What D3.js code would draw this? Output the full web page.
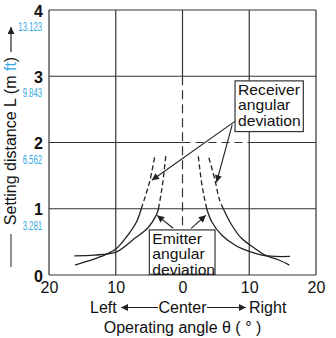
<!DOCTYPE html>
<html>
<head>
<meta charset="utf-8">
<script src="https://cdn.jsdelivr.net/npm/d3@7"></script>
<style>
  html, body { margin: 0; padding: 0; background: #fff; }
  svg { display: block; font-family: "Liberation Sans", Arial, sans-serif; }
</style>
</head>
<body>
<svg id="chart" width="336" height="338"></svg>
<script>
// Operating angle (deg, negative = left) vs setting distance L (m)
const emitterLeft   = [[-16.2,0.29],[-13.2,0.30],[-9.9,0.35],[-7.2,0.55],[-5.2,0.71],[-3.95,0.90],[-3.6,1.0],[-3.25,1.2],[-2.95,1.4],[-2.5,1.8]];
const emitterRight  = [[16.1,0.28],[13.9,0.28],[11.9,0.30],[9.9,0.36],[7.9,0.45],[5.9,0.60],[4.4,0.80],[3.63,1.0],[3.2,1.2],[2.85,1.4],[2.37,1.79]];
const receiverLeft  = [[-16.1,0.15],[-11.7,0.30],[-9.9,0.40],[-8.2,0.60],[-6.9,0.80],[-6.17,1.0],[-5.66,1.16],[-4.87,1.43],[-4.12,1.81]];
const receiverRight = [[16.0,0.15],[14.35,0.23],[12.36,0.30],[10.86,0.40],[8.87,0.55],[7.37,0.755],[6.11,1.0],[5.5,1.15],[4.87,1.43],[3.87,1.8]];

const xTicks = [-20, -10, 0, 10, 20];
const meterTicks = [0, 1, 2, 3, 4];
const feetLabels = ["", "3.281", "6.562", "9.843", "13.123"];
const solidLimit = 1.0;   // curves are measured up to 1 m, dashed beyond

const svg = d3.select("#chart");
const x = d3.scaleLinear().domain([-20, 20]).range([49, 316]);
const y = d3.scaleLinear().domain([0, 4]).range([275, 10]);

const ink = "#222";
const blue = "#36a9e1";

// arrowhead marker
svg.append("defs").append("marker")
  .attr("id", "head").attr("viewBox", "0 0 10 10")
  .attr("refX", 10).attr("refY", 5)
  .attr("markerWidth", 10).attr("markerHeight", 7)
  .attr("markerUnits", "userSpaceOnUse")
  .attr("orient", "auto")
  .append("path").attr("d", "M0,0 L10,5 L0,10 Z").attr("fill", ink);

// grid
const grid = svg.append("g").attr("stroke", "#333").attr("stroke-width", 1.2).attr("fill", "none");
xTicks.filter(d => d !== 0).forEach(d => {
  grid.append("line").attr("x1", x(d)).attr("x2", x(d)).attr("y1", y(0)).attr("y2", y(4));
});
meterTicks.forEach(d => {
  if (d === 2) {
    grid.append("line").attr("x1", x(-20)).attr("x2", x(0)).attr("y1", y(d)).attr("y2", y(d));
    grid.append("line").attr("x1", x(0)).attr("x2", x(10)).attr("y1", y(d)).attr("y2", y(d))
      .attr("stroke-dasharray", "8,5");
    grid.append("line").attr("x1", x(10)).attr("x2", x(20)).attr("y1", y(d)).attr("y2", y(d));
  } else {
    grid.append("line").attr("x1", x(-20)).attr("x2", x(20)).attr("y1", y(d)).attr("y2", y(d));
  }
});
// centre line: solid at top, dashed below 3 m
grid.append("line").attr("x1", x(0)).attr("x2", x(0)).attr("y1", y(4)).attr("y2", y(3));
grid.append("line").attr("x1", x(0)).attr("x2", x(0)).attr("y1", y(3)).attr("y2", y(0))
  .attr("stroke-dasharray", "9,5");

// x tick labels
const xAxis = d3.axisBottom(x).tickValues(xTicks).tickSize(0).tickPadding(0)
  .tickFormat(d => Math.abs(d));
const gx = svg.append("g").attr("transform", `translate(0,${y(0)})`).call(xAxis);
gx.select(".domain").remove();
gx.selectAll("text").attr("font-size", 16).attr("fill", "#111")
  .attr("font-family", "Liberation Sans, Arial, sans-serif")
  .attr("dy", null).attr("y", 18);

// y tick labels (metres)
const yAxis = d3.axisLeft(y).tickValues(meterTicks).tickSize(0).tickPadding(0)
  .tickFormat(d3.format("d"));
const gy = svg.append("g").attr("transform", `translate(43,0)`).call(yAxis);
gy.select(".domain").remove();
gy.selectAll("text").attr("font-size", 16).attr("font-weight", "bold").attr("fill", "#111")
  .attr("font-family", "Liberation Sans, Arial, sans-serif")
  .attr("dy", null).attr("y", 6);

// feet labels, condensed
meterTicks.forEach((d, i) => {
  if (!feetLabels[i]) return;
  svg.append("g").attr("transform", `translate(42,${y(d) + 21}) scale(0.62,1)`)
    .append("text").attr("text-anchor", "end").attr("font-size", 12.5)
    .attr("fill", blue).text(feetLabels[i]);
});

// curves
const line = d3.line().x(d => x(d[0])).y(d => y(d[1])).curve(d3.curveCatmullRom);
[emitterLeft, emitterRight, receiverLeft, receiverRight].forEach(pts => {
  const solid = pts.filter(p => p[1] <= solidLimit);
  const dashed = pts.filter(p => p[1] >= solidLimit);
  svg.append("path").attr("d", line(solid)).attr("fill", "none")
    .attr("stroke", ink).attr("stroke-width", 1.3);
  svg.append("path").attr("d", line(dashed)).attr("fill", "none")
    .attr("stroke", ink).attr("stroke-width", 1.3).attr("stroke-dasharray", "5,3");
});

// annotation boxes with leader arrows
function box(x0, x1, yTop, yBot, lines) {
  const g = svg.append("g");
  g.append("rect").attr("x", x(x0)).attr("y", y(yTop))
    .attr("width", x(x1) - x(x0)).attr("height", y(yBot) - y(yTop))
    .attr("fill", "#fff").attr("stroke", "#333").attr("stroke-width", 1.2);
  lines.forEach((t, i) => {
    g.append("g").attr("transform", `translate(${x(x0) + 3},${y(yTop) + 13.8 + i * 15.6}) scale(1.12,1)`)
      .append("text").attr("font-size", 14).attr("fill", "#111").text(t);
  });
}
function arrow(from, to) {
  svg.append("line").attr("x1", x(from[0])).attr("y1", y(from[1]))
    .attr("x2", x(to[0])).attr("y2", y(to[1]))
    .attr("stroke", ink).attr("stroke-width", 1.1).attr("marker-end", "url(#head)");
}
arrow([8.0, 2.33], [-4.6, 1.43]);
arrow([7.45, 2.27], [5.1, 1.40]);
box(7.87, 18.1, 2.93, 2.165, ["Receiver", "angular", "deviation"]);

arrow([-1.4, 0.705], [-3.8, 0.90]);
arrow([1.3, 0.705], [3.5, 0.90]);
box(-4.97, 4.87, 0.68, 0.01, ["Emitter", "angular", "deviation"]);

// x axis captions
const cap = svg.append("g").attr("font-size", 16).attr("fill", "#111");
cap.append("text").attr("x", 90).attr("y", 313).text("Left");
cap.append("text").attr("x", x(0)).attr("y", 313).attr("text-anchor", "middle").text("Center");
cap.append("text").attr("x", 249).attr("y", 313).text("Right");
svg.append("line").attr("x1", 158).attr("x2", 121).attr("y1", 307.5).attr("y2", 307.5)
  .attr("stroke", ink).attr("stroke-width", 1.1).attr("marker-end", "url(#head)");
svg.append("line").attr("x1", 207).attr("x2", 246).attr("y1", 307.5).attr("y2", 307.5)
  .attr("stroke", ink).attr("stroke-width", 1.1).attr("marker-end", "url(#head)");
cap.append("text").attr("x", x(0)).attr("y", 333).attr("text-anchor", "middle")
  .text("Operating angle θ ( ° )");

// y axis caption
const yt = svg.append("text").attr("transform", "translate(16,141) rotate(-90)")
  .attr("text-anchor", "middle").attr("font-size", 16).attr("fill", "#111");
yt.append("tspan").text("Setting distance L (m ");
yt.append("tspan").attr("fill", blue).text("ft");
yt.append("tspan").text(")");
svg.append("line").attr("x1", 11).attr("x2", 11).attr("y1", 267).attr("y2", 234)
  .attr("stroke", "#555").attr("stroke-width", 1.3);
svg.append("line").attr("x1", 11).attr("x2", 11).attr("y1", 52).attr("y2", 27)
  .attr("stroke", ink).attr("stroke-width", 1.2).attr("marker-end", "url(#head)");
</script>
</body>
</html>
